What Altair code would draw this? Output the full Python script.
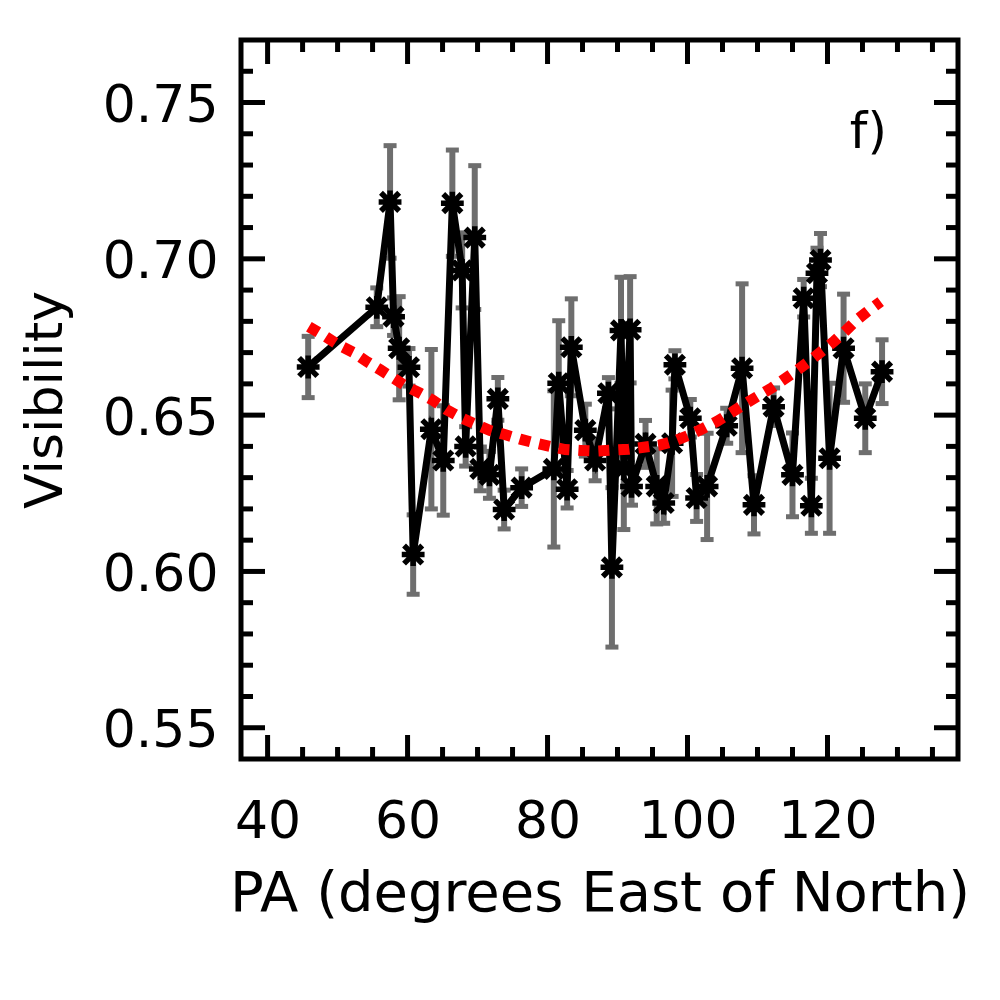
import altair as alt
import pandas as pd

# ---- data ----
pa = [45.8, 55.6, 57.5, 58.0, 58.8, 60.2, 60.8, 63.4, 65.1, 66.4,
      67.8, 68.3, 69.6, 70.4, 71.7, 72.9, 73.8, 76.3, 80.9, 81.6,
      82.8, 83.4, 85.4, 86.8, 88.7, 89.2, 90.5, 90.9, 91.8, 92.0,
      94.0, 95.6, 96.6, 97.8, 98.2, 100.4, 101.3, 102.8, 105.6, 107.8,
      109.5, 112.3, 115.0, 116.6, 117.7, 118.5, 119.0, 120.3, 122.3, 125.4,
      127.8]
vis = [0.6654, 0.6845, 0.7182, 0.6815, 0.6714, 0.6653, 0.6054, 0.6455, 0.6355, 0.7178,
       0.6963, 0.6400, 0.7068, 0.6328, 0.6309, 0.6552, 0.6198, 0.6268, 0.6328, 0.6602,
       0.6263, 0.6717, 0.6452, 0.6355, 0.6570, 0.6013, 0.6771, 0.6330, 0.6773, 0.6272,
       0.6408, 0.6272, 0.6219, 0.6410, 0.6661, 0.6490, 0.6235, 0.6272, 0.6466, 0.6650,
       0.6213, 0.6527, 0.6309, 0.6874, 0.6210, 0.6954, 0.6996, 0.6362, 0.6714, 0.6490,
       0.6639]
err = [0.0098, 0.0062, 0.018, 0.006, 0.0165, 0.006, 0.0127, 0.0255, 0.0175, 0.017,
       0.012, 0.0063, 0.023, 0.007, 0.0075, 0.0068, 0.0062, 0.006, 0.025, 0.020,
       0.006, 0.0155, 0.0083, 0.0065, 0.005, 0.0255, 0.017, 0.0196, 0.017, 0.006,
       0.0075, 0.012, 0.0065, 0.017, 0.0045, 0.006, 0.0075, 0.017, 0.0056, 0.027,
       0.0093, 0.006, 0.0134, 0.006, 0.0088, 0.008, 0.0085, 0.024, 0.0173, 0.011,
       0.0102]

fit_x = [45.9, 48.3, 50.1, 52.3, 54.2, 56.1, 58.0, 59.9, 61.8, 63.6,
         65.6, 67.8, 69.9, 71.8, 74.0, 76.1, 78.2, 80.4, 82.5, 84.7,
         87.0, 89.2, 91.6, 94.0, 96.0, 98.0, 100.1, 102.3, 104.2, 106.1,
         108.0, 110.0, 112.1, 113.7, 115.5, 117.3, 119.1, 120.9, 122.6, 124.2,
         125.9, 127.6]
fit_y = [0.6783, 0.6751, 0.6725, 0.6700, 0.6671, 0.6645, 0.6618, 0.6591, 0.6570, 0.6548,
         0.6517, 0.6490, 0.6469, 0.6451, 0.6437, 0.6423, 0.6411, 0.6400, 0.6390, 0.6387,
         0.6385, 0.6388, 0.6391, 0.6398, 0.6404, 0.6416, 0.6435, 0.6458, 0.6480, 0.6506,
         0.6533, 0.6560, 0.6588, 0.6613, 0.6641, 0.6671, 0.6703, 0.6735, 0.6770, 0.6805,
         0.6835, 0.6863]

x_major = [40, 60, 80, 100, 120]
x_minor = [45, 50, 55, 65, 70, 75, 85, 90, 95, 105, 110, 115, 125, 130, 135]
y_major = [0.55, 0.60, 0.65, 0.70, 0.75]
y_minor = [0.56, 0.57, 0.58, 0.59, 0.61, 0.62, 0.63, 0.64, 0.66, 0.67, 0.68, 0.69,
           0.71, 0.72, 0.73, 0.74, 0.76]

note_x = [123.2]
note_y = [0.7355]
note_text = ["f)"]

X_DOMAIN = [36.2, 138.65]
Y_DOMAIN = [0.54, 0.77]
W, H = 717, 719
FONT = "DejaVu Sans"

df = pd.DataFrame({"pa": pa, "vis": vis, "err": err})
df["lo"] = df["vis"] - df["err"]
df["hi"] = df["vis"] + df["err"]
df["order"] = range(len(df))
fit = pd.DataFrame({"pa": fit_x, "vis": fit_y})

xs = alt.Scale(domain=X_DOMAIN, nice=False, zero=False)
ys = alt.Scale(domain=Y_DOMAIN, nice=False, zero=False)

x_axis = alt.Axis(values=x_major, ticks=False, domain=False, grid=False,
                  labelFont=FONT, labelFontSize=52, labelColor="black",
                  labelPadding=37, labelFlush=False, labelOverlap=False,
                  title="PA (degrees East of North)", titleFont=FONT,
                  titleFontSize=56, titleFontWeight="normal", titleColor="black",
                  titlePadding=19)
y_axis = alt.Axis(values=y_major, ticks=False, domain=False, grid=False, format=".2f",
                  labelFont=FONT, labelFontSize=52, labelColor="black",
                  labelPadding=23, labelFlush=False, labelOverlap=False, labelOffset=3,
                  title="Visibility", titleFont=FONT, titleFontSize=52,
                  titleFontWeight="normal", titleColor="black", titlePadding=30)

base = alt.Chart(df)

# axes holder (labels + titles)
axes = base.mark_point(opacity=0).encode(
    x=alt.X("pa:Q", scale=xs, axis=x_axis),
    y=alt.Y("vis:Q", scale=ys, axis=y_axis),
)

GRAY = "#6e6e6e"
bars = base.mark_rule(color=GRAY, strokeWidth=6, opacity=1).encode(
    x=alt.X("pa:Q", scale=xs), y=alt.Y("lo:Q", scale=ys), y2="hi:Q")
cap_lo = base.mark_tick(color=GRAY, orient="horizontal", size=13, thickness=5, opacity=1).encode(
    x=alt.X("pa:Q", scale=xs), y=alt.Y("lo:Q", scale=ys))
cap_hi = base.mark_tick(color=GRAY, orient="horizontal", size=13, thickness=5, opacity=1).encode(
    x=alt.X("pa:Q", scale=xs), y=alt.Y("hi:Q", scale=ys))

line = base.mark_line(color="black", strokeWidth=7, strokeJoin="miter").encode(
    x=alt.X("pa:Q", scale=xs), y=alt.Y("vis:Q", scale=ys), order="order:Q")

ASTER = "M-1,0L1,0M0,-1L0,1M-0.8,-0.8L0.8,0.8M-0.8,0.8L0.8,-0.8"
markers = base.mark_point(shape=ASTER, size=520, filled=False, color="black",
                          strokeWidth=5.5, opacity=1).encode(
    x=alt.X("pa:Q", scale=xs), y=alt.Y("vis:Q", scale=ys))

fitline = alt.Chart(fit).mark_line(color="#ff0000", strokeWidth=11,
                                   strokeDash=[11, 9], strokeCap="butt").encode(
    x=alt.X("pa:Q", scale=xs), y=alt.Y("vis:Q", scale=ys))

note = alt.Chart(pd.DataFrame({"x": note_x, "y": note_y, "t": note_text})).mark_text(
    font=FONT, fontSize=50, align="left", baseline="alphabetic", color="black").encode(
    x=alt.X("x:Q", scale=xs), y=alt.Y("y:Q", scale=ys), text="t:N")

# inward ticks on all four sides
def xt(vals, L, top):
    d = pd.DataFrame({"v": vals})
    if top:
        yy, yy2 = alt.value(0), alt.value(L)
    else:
        yy, yy2 = alt.value(H), alt.value(H - L)
    return alt.Chart(d).mark_rule(color="black", strokeWidth=5).encode(
        x=alt.X("v:Q", scale=xs), y=yy, y2=yy2)

def yt(vals, L, right):
    d = pd.DataFrame({"v": vals})
    if right:
        xx, xx2 = alt.value(W), alt.value(W - L)
    else:
        xx, xx2 = alt.value(0), alt.value(L)
    return alt.Chart(d).mark_rule(color="black", strokeWidth=5).encode(
        y=alt.Y("v:Q", scale=ys), x=xx, x2=xx2)

ticks = [xt(x_major, 24, False), xt(x_minor, 12, False),
         xt(x_major, 24, True), xt(x_minor, 12, True),
         yt(y_major, 24, False), yt(y_minor, 12, False),
         yt(y_major, 24, True), yt(y_minor, 12, True)]

chart = alt.layer(axes, bars, cap_lo, cap_hi, line, markers, fitline, note, *ticks).properties(
    width=W, height=H,
    autosize=alt.AutoSizeParams(type="none"),
    padding={"left": 233, "top": 32, "right": 20, "bottom": 200},
    background="white",
).configure_view(stroke="black", strokeWidth=5)

chart.save("out.html", embed_options={"renderer": "svg", "actions": False})
